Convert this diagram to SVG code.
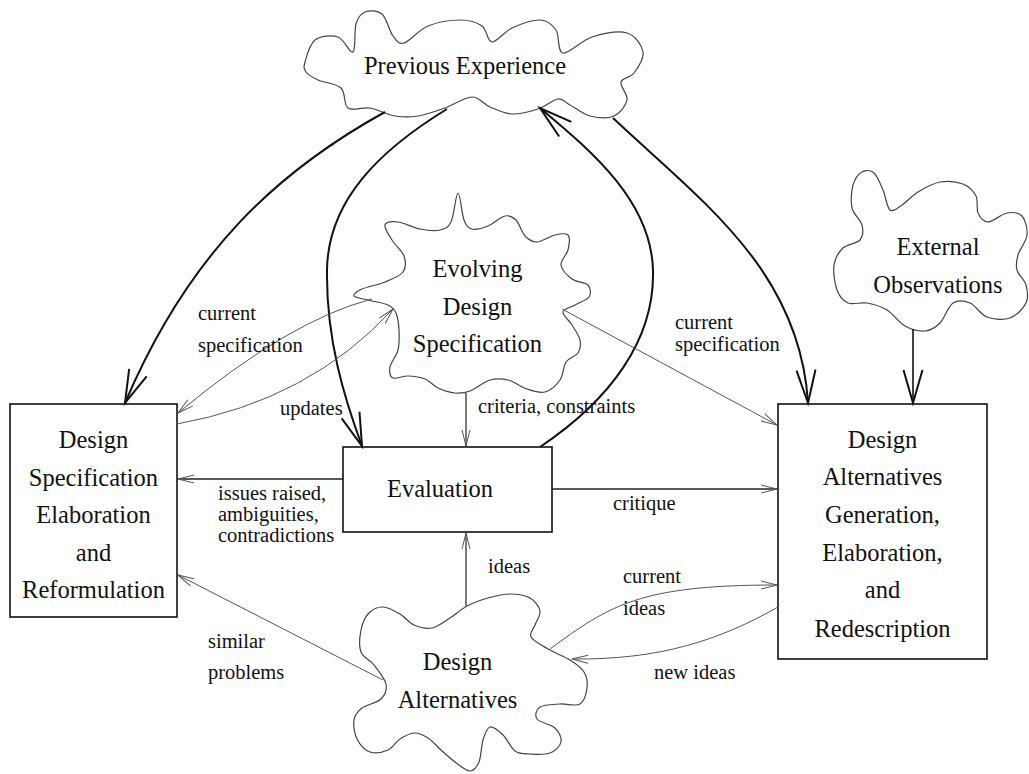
<svg xmlns="http://www.w3.org/2000/svg" width="1029" height="774" viewBox="0 0 1029 774">
<style>
.box{fill:none;stroke:#111;stroke-width:1.6}
.cloud{fill:none;stroke:#444;stroke-width:1.2}
.thick{fill:none;stroke:#111;stroke-width:2;marker-end:url(#big)}
.thin{fill:none;stroke:#555;stroke-width:1;marker-end:url(#small)}
.mid{fill:none;stroke:#222;stroke-width:1.5;marker-end:url(#small)}
.n{font-family:"Liberation Serif","Times New Roman",serif;font-size:24.5px;text-anchor:middle;fill:#111}
.l{font-family:"Liberation Serif","Times New Roman",serif;font-size:20.5px;fill:#111}
</style>
<defs>
<marker id="big" viewBox="-36 -12 40 24" refX="0" refY="0" markerWidth="40" markerHeight="24" markerUnits="userSpaceOnUse" orient="auto"><path d="M-33,-9.5 L0,0 L-33,9.5" fill="none" stroke="#111" stroke-width="2"/></marker>
<marker id="small" viewBox="-20 -8 24 16" refX="0" refY="0" markerWidth="24" markerHeight="16" markerUnits="userSpaceOnUse" orient="auto"><path d="M-16,-4 L0,0 L-16,4" fill="none" stroke="#555" stroke-width="1"/></marker>
</defs>
<rect width="1029" height="774" fill="#fff"/>

<g id="previous-experience">
<path class="cloud" d="M305,62 C306.5,56.7 309.5,44.2 315,40 S331.7,35 338,37 S350,54.2 353,52 S354,30.7 356,24 S360.7,13.7 365,12 S377.3,10 382,14 S389.3,31.2 393,36 S398.2,44.7 404,43 S418.7,29.8 428,26 S451,20 460,20 S476.7,22.3 482,26 S487,41.7 492,42 S504,31.7 512,28 S532.7,19.7 540,20 S552.2,24.5 556,30 S557,51.8 563,53 S581.3,40.3 592,37 S618.5,30.5 627,33 S641.8,45.3 643,52 S637.7,68 634,73 S622.2,77.5 621,82 S628.2,94.3 627,100 S620.2,113.3 614,116 S597.3,117.8 590,116 S575.3,107.8 570,105 S563.3,98.3 558,99 S545.7,106.5 538,109 S520,114.3 512,114 S496.7,109.8 490,107 S479.5,96.8 472,97 S454,104.8 445,108 S426.3,114.7 418,116 S403,117.3 395,116 S377.8,109.3 370,108 S352.8,111.3 348,108 S346,92.7 341,88 S323.8,82.7 318,80 S308.2,75 306,72 S303.5,67.3 305,62 Z"/>
<text class="n" x="465" y="74">Previous Experience</text>
</g>

<g id="evolving-design-specification">
<path class="cloud" d="M458,193 C460.2,192.7 461.7,214 464,220 S468,228 472,229 S482.5,228.2 488,226 S500.3,217 505,216 S512.7,216.7 516,220 S521.5,232.3 525,236 S532,242.2 537,242 S549.8,236.2 555,235 S565.8,232.5 568,235 S569.2,245 568,250 S560.3,260.2 561,265 S567.5,275.7 572,279 S585.2,282 588,285 S591.2,293.7 589,297 S579.3,302.5 575,305 S563.5,308.7 563,312 S569.2,320.3 572,325 S579,335.3 580,340 S580.3,349.3 578,353 S569,357.5 566,362 S563.5,375 560,380 S550.5,390.5 545,392 S533.2,391 527,389 S514.2,381.5 508,380 S496.3,378.2 490,380 S475.8,388.8 470,391 S460.3,393.5 455,393 S443,390.3 438,388 S430,381 425,379 S413.3,376.2 408,376 S396,379.5 393,378 S389.2,371.7 390,367 S396.5,356.2 398,350 S399.3,336.2 399,330 S397.8,317.2 396,313 S392.7,307.2 388,305 S373.7,301.5 368,300 S355,297.8 354,296 S356.8,291.3 362,289 S378.2,284.8 385,282 S399.8,276.3 403,272 S405.8,261.3 404,256 S395.2,245.2 392,240 S384,228 385,225 S392.2,221.3 398,222 S413,227.7 420,229 S434.8,231.2 440,230 S448,228.2 451,222 S455.8,193.3 458,193 Z"/>
<text class="n" x="477.5" y="277">Evolving</text>
<text class="n" x="477.5" y="315">Design</text>
<text class="n" x="477.5" y="352">Specification</text>
</g>

<g id="external-observations">
<path class="cloud" d="M853,185 C854.7,179 858.5,174 862,172 S870.5,170 874,173 S880.3,183.8 883,190 S886.8,207.5 890,210 S897.3,208 902,205 S911.7,195.8 918,192 S932.5,183.3 940,182 S957,181.7 963,184 S973.5,191.2 976,196 S976,208.7 978,213 S983.2,222 988,222 S1001.3,214 1007,213 S1018.7,212.3 1022,216 S1027.7,228.5 1027,235 S1019.7,249.2 1018,255 S1015.7,265 1017,270 S1024.5,279.5 1026,285 S1028.7,297.5 1026,303 S1016.5,315.7 1010,318 S993.7,319.5 987,317 S975.7,305.3 970,303 S958,299.7 953,303 S944.7,318.3 940,323 S930.8,330.5 925,331 S911.3,329.5 905,326 S893.3,313.8 887,310 S873.5,304.2 867,303 S853,305.2 848,303 S839.3,296.3 837,290 S833,272 834,265 S838.7,252.2 843,248 S856.8,243.8 860,240 S863.3,230.3 862,225 S853.5,214.7 852,208 S851.3,191 853,185 Z"/>
<text class="n" x="938" y="255">External</text>
<text class="n" x="938" y="293">Observations</text>
</g>

<g id="design-alternatives">
<path class="cloud" d="M467,606 C473.3,602.7 480.8,600 488,598 S503,594 510,594 S525,595.2 530,598 S539.2,606.5 540,611 S536.5,620.7 535,625 S528.8,633 531,637 S541.5,645.2 548,649 S564,656.2 570,660 S581.2,667.3 584,672 S587.7,682.7 587,688 S584.5,701.3 580,704 S566.7,703.5 560,704 S543.8,704.5 540,707 S534.5,715.5 537,719 S551,724.2 555,728 S561.8,737.8 561,742 S555.2,751 550,753 S535.8,754.3 530,754 S519.5,754.2 515,751 S507.2,739 503,735 S493.3,726.2 490,727 S484.8,734.2 483,740 S481.2,756.8 479,762 S474,771 470,771 S459.8,765.5 455,762 S445.5,754 441,750 S432.5,740.8 428,738 S418.7,732.8 414,733 S404.3,736.2 400,739 S393,747.8 388,750 S375.2,753.8 370,752 S359.7,744.3 357,739 S353.2,725.2 354,720 S357.5,711.5 362,708 S377,703 381,699 S387.2,689.7 386,684 S378.2,670.3 374,665 S363.2,657.8 361,652 S359.7,636.5 361,630 S365.3,616.8 369,613 S377.8,606.8 383,607 S394.8,611 400,614 S408.7,622.7 414,625 S426,629.2 432,628 S444.2,621.7 450,618 S460.7,609.3 467,606 Z"/>
<text class="n" x="457.5" y="670">Design</text>
<text class="n" x="457.5" y="708">Alternatives</text>
</g>

<g id="spec-elaboration">
<rect class="box" x="10" y="404" width="167" height="213"/>
<text class="n" x="93.5" y="448">Design</text>
<text class="n" x="93.5" y="486">Specification</text>
<text class="n" x="93.5" y="523">Elaboration</text>
<text class="n" x="93.5" y="561">and</text>
<text class="n" x="93.5" y="598">Reformulation</text>
</g>

<g id="evaluation">
<rect class="box" x="343" y="447" width="209" height="85"/>
<text class="n" x="440" y="497">Evaluation</text>
</g>

<g id="alternatives-generation">
<rect class="box" x="778" y="404" width="209" height="255"/>
<text class="n" x="882.5" y="448">Design</text>
<text class="n" x="882.5" y="485">Alternatives</text>
<text class="n" x="882.5" y="523">Generation,</text>
<text class="n" x="882.5" y="561">Elaboration,</text>
<text class="n" x="882.5" y="598">and</text>
<text class="n" x="882.5" y="637">Redescription</text>
</g>

<g id="connectors">
<path class="thick" d="M385,112 C280,170 190,250 125,403"/>
<path class="thick" d="M447,109 C380,150 328,200 327,270 C326,340 345,400 362,446"/>
<path class="thick" d="M540,447 C610,400 655,340 653,270 C651,200 590,150 540,108"/>
<path class="thick" d="M613,118 C700,200 800,270 808,403"/>
<path class="thick" style="stroke-width:1.6" d="M913,329 L913,403"/>
<path class="thin" d="M372,299 Q290,320 178,413"/>
<path class="thin" d="M177,424 Q310,400 393,309"/>
<path class="thin" style="stroke-width:1.3;stroke:#333" d="M466,393 L466,446"/>
<path class="thin" d="M562,309 L777,425"/>
<path class="mid" d="M343,479 L178,479"/>
<path class="mid" d="M552,489 L777,489"/>
<path class="mid" style="stroke-width:1.3;stroke:#333" d="M466,606 L466,533"/>
<path class="thin" d="M383,680 L178,575"/>
<path class="thin" d="M550,649 C610,605 640,585 777,585"/>
<path class="thin" d="M778,607 C720,640 660,660 572,659"/>
</g>

<g id="labels">
<text class="l" x="198" y="320">current</text>
<text class="l" x="198" y="352">specification</text>
<text class="l" x="280" y="415">updates</text>
<text class="l" x="478" y="413">criteria, constraints</text>
<text class="l" x="675" y="329">current</text>
<text class="l" x="675" y="351">specification</text>
<text class="l" x="218" y="500">issues raised,</text>
<text class="l" x="218" y="521">ambiguities,</text>
<text class="l" x="218" y="542">contradictions</text>
<text class="l" x="613" y="510">critique</text>
<text class="l" x="488" y="573">ideas</text>
<text class="l" x="623" y="583">current</text>
<text class="l" x="623" y="615">ideas</text>
<text class="l" x="654" y="679">new ideas</text>
<text class="l" x="208" y="648">similar</text>
<text class="l" x="208" y="679">problems</text>
</g>
</svg>
